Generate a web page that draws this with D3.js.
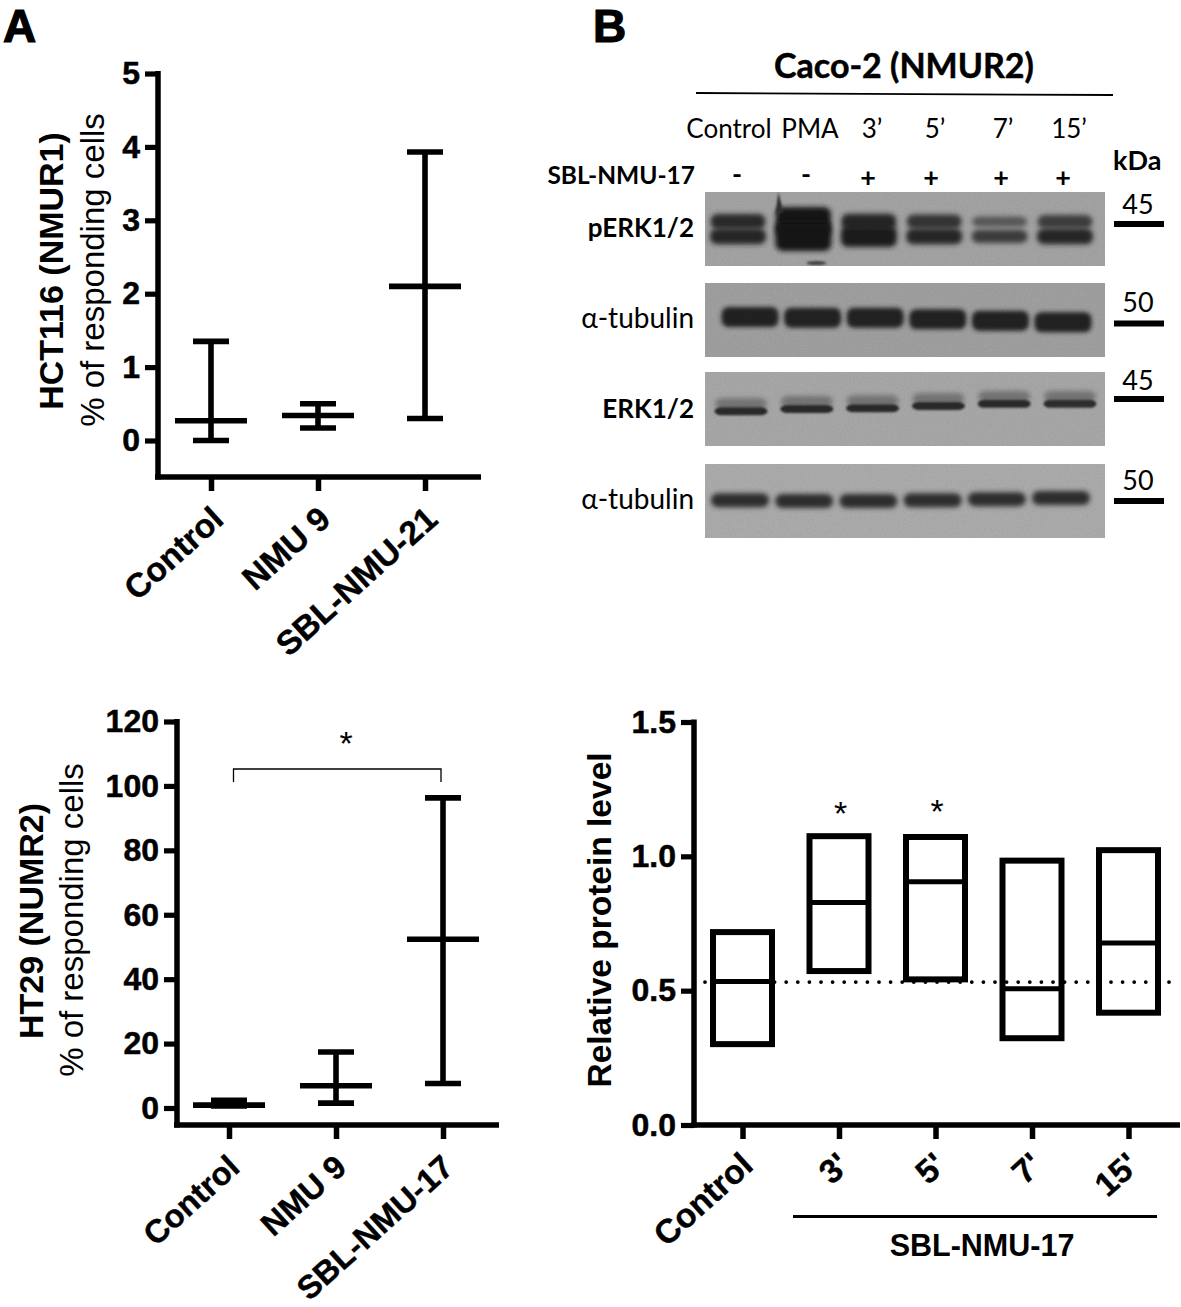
<!DOCTYPE html>
<html><head><meta charset="utf-8">
<script src="https://d3js.org/d3.v7.min.js"></script>
<style>html,body{margin:0;padding:0;background:#fff}svg{display:block}
.ar{font-family:"Liberation Sans",Arial,sans-serif}.ca{font-family:Lato,sans-serif}</style>
</head><body><svg id="c" width="1181" height="1307"></svg>
<script>
// ---- data ----
const hctCategories=["Control","NMU 9","SBL-NMU-21"];
const hctMean=[0.27,0.34,2.1];
const hctLow=[0,0.17,0.3];
const hctHigh=[1.35,0.5,3.93];
const hctTicks=[0,1,2,3,4,5];

const htCategories=["Control","NMU 9","SBL-NMU-17"];
const htMean=[0.9,6.9,52.4];
const htLow=[0.6,1.5,7.6];
const htHigh=[2.4,17.4,96.3];
const htTicks=[0,20,40,60,80,100,120];

const relCategories=["Control","3'","5'","7'","15'"];
const relMid=[0.534,0.828,0.905,0.507,0.677];
const relLow=[0.301,0.573,0.542,0.323,0.418];
const relHigh=[0.718,1.075,1.072,0.984,1.023];
const relTicks=[0,0.5,1,1.5];
const relBaseline=0.532;

const laneLabels=["Control","PMA","3’","5’","7’","15’"];
const laneSigns=["-","-","+","+","+","+"];
const perkUpperDensity=[0.84,1,0.88,0.78,0.52,0.72];
const perkLowerDensity=[0.88,1,0.94,0.88,0.72,0.88];
const tub1Pos=[0.46,0.47,0.47,0.49,0.51,0.53];
const erkPos=[0.53,0.5,0.49,0.46,0.43,0.43];
const erkDensity=[0.86,0.86,0.84,0.84,0.84,0.82];
const tub2Pos=[0.49,0.5,0.5,0.49,0.475,0.46];

// ---- chart helpers ----
const svg=d3.select("#c");
const defs=svg.append("defs");
const blur=(id,s)=>defs.append("filter").attr("id",id).attr("x","-20%").attr("y","-80%").attr("width","140%").attr("height","260%")
  .append("feGaussianBlur").attr("stdDeviation",s);
blur("b3",2.6);blur("b2",1.9);blur("b1",1.2);
const grain=defs.append("filter").attr("id","grain").attr("x",0).attr("y",0).attr("width","100%").attr("height","100%");
grain.append("feTurbulence").attr("type","fractalNoise").attr("baseFrequency",0.7).attr("numOctaves",2).attr("seed",4);
grain.append("feColorMatrix").attr("values","0 0 0 0 0  0 0 0 0 0  0 0 0 0 0  0.5 0 0 0 -0.15");

function frame(g,x,y,ticks,fmt,o){
  const ax=g.append("g").attr("class","ar").attr("transform",`translate(${o.ax},0)`)
    .call(d3.axisLeft(y).tickValues(ticks).tickFormat(fmt).tickSize(13).tickPadding(5).tickSizeOuter(0));
  ax.select(".domain").attr("stroke-width",5.5).attr("stroke","#000").attr("d",`M0,${y(o.top)-2.5}V${o.base+2.5}`);
  ax.selectAll(".tick line").attr("stroke","#000").attr("stroke-width",5.2);
  ax.selectAll(".tick text").attr("font-size",32).attr("font-weight",700).attr("fill","#000")
    .attr("stroke","#000").attr("stroke-width",0.5)
    .attr("font-family",'"Liberation Sans",Arial,sans-serif');
  g.append("line").attr("x1",o.ax-3).attr("x2",o.end).attr("y1",o.base).attr("y2",o.base).attr("stroke","#000").attr("stroke-width",5.5);
  const xa=g.append("g").attr("transform",`translate(0,${o.base})`)
    .call(d3.axisBottom(x).tickSize(14).tickSizeOuter(0));
  xa.select(".domain").remove();
  xa.selectAll(".tick line").attr("stroke","#000").attr("stroke-width",5.5);
  xa.selectAll(".tick text").attr("font-size",o.xfs||33.5).attr("font-weight",700).attr("fill","#000")
    .attr("stroke","#000").attr("stroke-width",0.4)
    .attr("font-family",'"Liberation Sans",Arial,sans-serif')
    .attr("text-anchor","end").attr("dy",0).attr("y",0)
    .attr("transform",`translate(${o.lx},${o.ly}) rotate(-42)`);
}
function rotText(g,t,x,y,fs,w){
  g.append("text").attr("class","ar").attr("transform",`translate(${x},${y}) rotate(-90)`)
   .attr("text-anchor","middle").attr("font-size",fs).attr("font-weight",w).attr("fill","#000").text(t);
}
function errors(g,x,y,cats,mean,low,high){
  const s=g.selectAll("g.e").data(cats).join("g").attr("class","e");
  const ln=(f)=>s.append("line").attr("stroke","#000").attr("stroke-width",5.6).call(f);
  ln(l=>l.attr("x1",d=>x(d)).attr("x2",d=>x(d)).attr("y1",(d,i)=>y(high[i])).attr("y2",(d,i)=>y(low[i])));
  ln(l=>l.attr("x1",d=>x(d)-18).attr("x2",d=>x(d)+18).attr("y1",(d,i)=>y(high[i])).attr("y2",(d,i)=>y(high[i])));
  ln(l=>l.attr("x1",d=>x(d)-18).attr("x2",d=>x(d)+18).attr("y1",(d,i)=>y(low[i])).attr("y2",(d,i)=>y(low[i])));
  ln(l=>l.attr("x1",d=>x(d)-36).attr("x2",d=>x(d)+36).attr("y1",(d,i)=>y(mean[i])).attr("y2",(d,i)=>y(mean[i])));
}

// ---- panel letters ----
svg.append("text").attr("class","ar").attr("x",3).attr("y",41.5).attr("font-size",46).attr("font-weight",700)
  .attr("stroke","#000").attr("stroke-width",1.2).text("A");
svg.append("text").attr("class","ar").attr("x",593).attr("y",41.5).attr("font-size",46).attr("font-weight",700)
  .attr("stroke","#000").attr("stroke-width",1.2).text("B");

// ---- HCT116 ----
{
 const g=svg.append("g");
 const y=d3.scaleLinear().domain([0,5]).range([440.5,73.5]);
 const x=d3.scalePoint().domain(hctCategories).range([211,425]);
 frame(g,x,y,hctTicks,d3.format("d"),{ax:158,top:5,base:477,end:481,lx:14,ly:45});
 errors(g,x,y,hctCategories,hctMean,hctLow,hctHigh);
 rotText(g,"HCT116 (NMUR1)",63,271,34,700);
 rotText(g,"% of responding cells",104,270,33,400);
}
// ---- HT29 ----
{
 const g=svg.append("g");
 const y=d3.scaleLinear().domain([0,120]).range([1108,721.5]);
 const x=d3.scalePoint().domain(htCategories).range([229,443]);
 frame(g,x,y,htTicks,d3.format("d"),{ax:177,top:120,base:1125,end:499,lx:12,ly:45,xfs:32.5});
 errors(g,x,y,htCategories,htMean,htLow,htHigh);
 rotText(g,"HT29 (NUMR2)",43,921,34,700);
 rotText(g,"% of responding cells",83,920,33,400);
 g.append("path").attr("fill","none").attr("stroke","#000").attr("stroke-width",1.3)
  .attr("d",d3.line()([[x(htCategories[0])+4.5,782],[x(htCategories[0])+4.5,769],[x(htCategories[2])-2,769],[x(htCategories[2])-2,782]]));
 g.append("text").attr("class","ar").attr("x",346).attr("y",755).attr("text-anchor","middle").attr("font-size",34).text("*");
}
// ---- relative protein ----
{
 const g=svg.append("g");
 const y=d3.scaleLinear().domain([0,1.5]).range([1125,722]);
 const x=d3.scalePoint().domain(relCategories).range([742.5,1128.5]);
 frame(g,x,y,relTicks,d3.format(".1f"),{ax:694,top:1.5,base:1125,end:1180,lx:12,ly:43});
 g.append("line").attr("x1",705).attr("x2",1176).attr("y1",y(relBaseline)).attr("y2",y(relBaseline))
  .attr("stroke","#000").attr("stroke-width",3.8).attr("stroke-linecap","round").attr("stroke-dasharray","0 11.6");
 g.selectAll("rect.b").data(relCategories).join("rect").attr("class","b")
  .attr("x",d=>x(d)-29.5).attr("width",59).attr("y",(d,i)=>y(relHigh[i])).attr("height",(d,i)=>y(relLow[i])-y(relHigh[i]))
  .attr("fill","none").attr("stroke","#000").attr("stroke-width",6);
 g.selectAll("line.m").data(relCategories).join("line").attr("class","m")
  .attr("x1",d=>x(d)-29.5).attr("x2",d=>x(d)+29.5).attr("y1",(d,i)=>y(relMid[i])).attr("y2",(d,i)=>y(relMid[i]))
  .attr("stroke","#000").attr("stroke-width",5);
 rotText(g,"Relative protein level",611,920,33.5,700);
 g.selectAll("text.s").data([relCategories[1],relCategories[2]]).join("text").attr("class","s ar")
  .attr("x",d=>x(d)+1.5).attr("y",(d,i)=>825-i*2).attr("text-anchor","middle").attr("font-size",34).text("*");
 g.append("line").attr("x1",793).attr("x2",1157).attr("y1",1216.5).attr("y2",1216.5).attr("stroke","#000").attr("stroke-width",2.8);
 g.append("text").attr("class","ar").attr("x",982).attr("y",1256).attr("text-anchor","middle").attr("font-size",30.5).attr("font-weight",700).text("SBL-NMU-17");
}
// ---- western blots ----
const tone=d3.scaleLinear().domain([0,1]).range(["#a2a2a2","#161616"]);
const thick=d3.scaleLinear().domain([0.5,0.9,1]).range([10,16,29]);
const lanes=d3.range(6);
function blot(top,bg){
  const g=svg.append("g");
  const id="clip"+top;
  defs.append("clipPath").attr("id",id).append("rect").attr("x",705).attr("y",top).attr("width",400).attr("height",74);
  g.attr("clip-path",`url(#${id})`);
  g.append("rect").attr("x",705).attr("y",top).attr("width",400).attr("height",74).attr("fill",bg);
  g.y=d3.scaleLinear().domain([0,1]).range([top,top+74]);
  return g;
}
function bands(g,x,w,pos,h,dens,filter){
  g.selectAll(null).data(lanes).join("rect").attr("x",i=>x(i)-w/2).attr("width",w)
   .attr("y",i=>g.y(pos(i))-h(i)/2).attr("height",i=>h(i)).attr("rx",7)
   .attr("fill",i=>tone(dens(i))).attr("filter",`url(#${filter})`);
}
function finish(g){
  g.append("rect").attr("x",705).attr("y",g.y(0)).attr("width",400).attr("height",74).attr("filter","url(#grain)").attr("opacity",0.2);
}
{ // pERK
 const g=blot(192,"#a4a4a4");
 const x=d3.scalePoint().domain(lanes).range([738,1065]);
 bands(g,x,55,i=>0.40,i=>thick(perkUpperDensity[i]),i=>perkUpperDensity[i],"b3");
 bands(g,x,56,i=>0.60,i=>thick(perkLowerDensity[i]),i=>perkLowerDensity[i],"b3");
 g.append("path").attr("fill","#333").attr("filter","url(#b1)")
  .attr("d",d3.line()([[x(1)-28,214],[x(1)-25,192],[x(1)-20,212]]));
 g.append("ellipse").attr("cx",x(1)+13).attr("cy",263).attr("rx",10).attr("ry",2).attr("fill","#444").attr("filter","url(#b1)");
 finish(g);
}
{ // alpha tubulin 1
 const g=blot(283,"#a0a0a0");
 const x=d3.scalePoint().domain(lanes).range([750,1063]);
 bands(g,x,57,i=>tub1Pos[i],i=>20,i=>0.9,"b2");
 finish(g);
}
{ // ERK
 const g=blot(372,"#a8a8a8");
 const x=d3.scalePoint().domain(lanes).range([741,1070]);
 bands(g,x,52,i=>erkPos[i]-0.1,i=>11,i=>0.32,"b3");
 bands(g,x,53,i=>erkPos[i],i=>8,i=>erkDensity[i],"b1");
 finish(g);
}
{ // alpha tubulin 2
 const g=blot(464,"#acacac");
 const x=d3.scalePoint().domain(lanes).range([740,1061]);
 bands(g,x,58,i=>tub2Pos[i],i=>14,i=>0.82,"b3");
 finish(g);
}
// ---- blot annotation ----
const ca=(t,x,y,fs,w,a)=>svg.append("text").attr("class","ca").attr("x",x).attr("y",y).attr("font-size",fs)
  .attr("font-weight",w).attr("text-anchor",a||"middle").attr("fill","#000").text(t);
ca("Caco-2 (NMUR2)",904,78,34,700).attr("stroke","#000").attr("stroke-width",0.5);
svg.append("line").attr("x1",696).attr("y1",93).attr("x2",1113).attr("y2",95).attr("stroke","#000").attr("stroke-width",1.8);
const labelX=d3.scaleOrdinal().domain(laneLabels).range([729,810,872,935,1003,1069]);
svg.selectAll("text.lane").data(laneLabels).join("text").attr("class","lane ca").attr("x",labelX).attr("y",138)
 .attr("text-anchor","middle").attr("font-size",26).attr("fill","#000").text(d=>d);
const signPx=[737,806,868,931,1001,1063];
svg.selectAll("text.sign").data(laneSigns).join("text").attr("class","sign ca").attr("x",(d,i)=>signPx[i]).attr("y",(d,i)=>i<2?184:187)
 .attr("text-anchor","middle").attr("font-size",27).attr("font-weight",700).attr("fill","#000").text(d=>d);
ca("SBL-NMU-17",695,184,24.5,700,"end");
ca("kDa",1113,170,27,700,"start");
ca("pERK1/2",694,237,26,700,"end");
ca("α-tubulin",694,328,28,400,"end");
ca("ERK1/2",694,418,26,700,"end");
ca("α-tubulin",694,509,28,400,"end");
const kdaLabels=["45","50","45","50"];
const kdaBaseline=[214,312,390,490];
const kdaBar=[224,323.5,399,501];
svg.selectAll("text.k").data(kdaLabels).join("text").attr("class","k ca").attr("x",1138).attr("y",(d,i)=>kdaBaseline[i])
 .attr("text-anchor","middle").attr("font-size",27).attr("fill","#000").text(d=>d);
svg.selectAll("line.k").data(kdaLabels).join("line").attr("class","k").attr("x1",1114).attr("x2",1164)
 .attr("y1",(d,i)=>kdaBar[i]).attr("y2",(d,i)=>kdaBar[i]).attr("stroke","#000").attr("stroke-width",6);
</script></body></html>
